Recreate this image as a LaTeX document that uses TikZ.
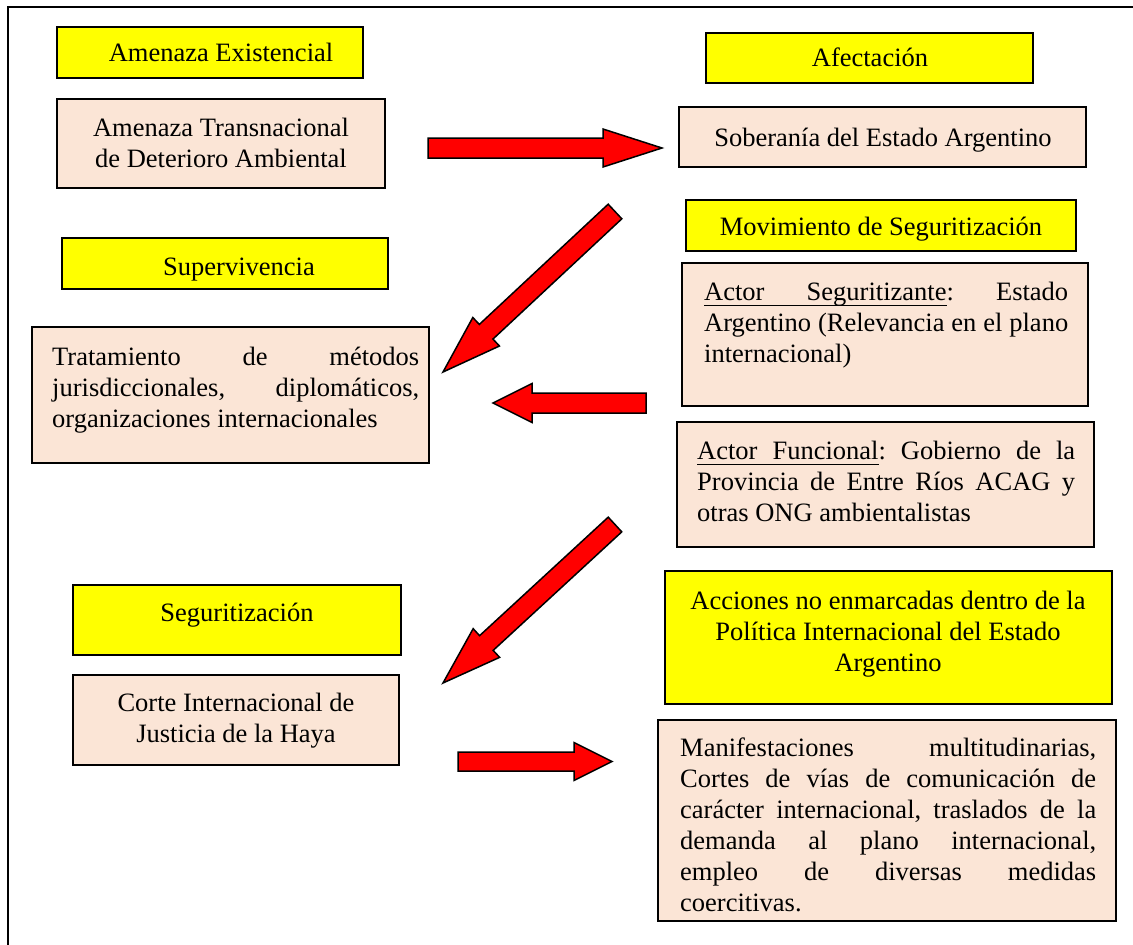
\documentclass[tikz,border=0pt]{standalone}
\usepackage{fontspec}
\setmainfont{Liberation Serif}
\usetikzlibrary{calc}
\definecolor{boxyellow}{HTML}{FFFF00}
\definecolor{boxpeach}{HTML}{FBE5D6}
\definecolor{arrowred}{HTML}{FF0000}
\frenchspacing
\newcommand\mybox[6]{%
  \node[#2, minimum width={(#5-#3)*1pt}, minimum height={(#6-#4)*1pt}] (#1) at ({(#3+#5)/2},{(#4+#6)/2}) {};}
\newcommand\blockarrow[5]{% tail, tip, head length, shaft half width, head half width
  \coordinate (hb) at ($(#2)!#3pt!(#1)$);
  \path[bigarrow] ($(#1)!#4pt!90:(#2)$) -- ($(hb)!#4pt!90:(#2)$) -- ($(hb)!#5pt!90:(#2)$) -- (#2)
    -- ($(hb)!#5pt!-90:(#2)$) -- ($(hb)!#4pt!-90:(#2)$) -- ($(#1)!#4pt!-90:(#2)$) -- cycle;}
\newcommand\ulw[1]{\setbox0\hbox{#1}\rlap{\vrule height -4.5pt depth 6pt width \wd0}\box0}
\newcommand\ulsp{\leaders\hrule height -4.5pt depth 6pt\hskip\fontdimen2\font plus\fontdimen3\font minus\fontdimen4\font\relax}
\newcommand\loosepar{\tolerance=10000 \emergencystretch=30pt \frenchspacing\relax}
\tikzset{
  ybox/.style={draw=black, line width=1.5pt, fill=boxyellow, inner sep=0pt},
  pbox/.style={draw=black, line width=1.5pt, fill=boxpeach, inner sep=0pt},
  ctext/.style={align=center, inner sep=0pt, anchor=base,
    font=\fontsize{26.5}{31}\selectfont},
  jtext/.style={text width=#1, align=justify, inner sep=0pt, anchor=base west,
    font=\fontsize{26.5}{31}\selectfont, execute at begin node=\loosepar},
  bigarrow/.style={draw=black, line width=1.5pt, fill=arrowred, line join=miter},
}
\begin{document}
\begin{tikzpicture}[x=1pt, y=-1pt]
\useasboundingbox (0,0) rectangle (1133,945);
\draw[line width=2pt] (8,945) -- (8,7) -- (1133,7);
% boxes
\mybox{b1}{ybox}{57}{27}{363}{78}
\mybox{b2}{pbox}{57}{99}{385}{188}
\mybox{b3}{ybox}{706}{33}{1033}{83}
\mybox{b4}{pbox}{679}{107}{1086}{167}
\mybox{b5}{ybox}{686}{200}{1076}{251}
\mybox{b6}{ybox}{62}{238}{388}{289}
\mybox{b7}{pbox}{32}{327}{429}{463}
\mybox{b8}{pbox}{682}{263}{1088}{406}
\mybox{b9}{pbox}{677}{422}{1094}{547}
\mybox{b10}{ybox}{73}{585}{401}{655}
\mybox{b11}{ybox}{665}{571}{1112}{704}
\mybox{b12}{pbox}{73}{675}{399}{765}
\mybox{b13}{pbox}{658}{720}{1116}{921}
% texts (base anchor = baseline of the last line)
\node[ctext] (t1) at (221,61) {Amenaza Existencial};
\node[ctext] (t2) at (221,167) {Amenaza Transnacional\\de Deterioro Ambiental};
\node[ctext] (t3) at (870,66) {Afectación};
\node[ctext] (t4) at (883,146) {Soberanía del Estado Argentino};
\node[ctext] (t5) at (881,235) {Movimiento de Seguritización};
\node[ctext] (t6) at (239,275) {Supervivencia};
\node[jtext=367pt] (t7) at (52,365) {Tratamiento de métodos\linebreak jurisdiccionales, diplomáticos,\linebreak organizaciones internacionales};
\node[jtext=364pt] (t8) at (704,300) {\ulw{Actor}\ulsp\ulw{Seguritizante}: Estado\linebreak Argentino (Relevancia en el plano\linebreak internacional)};
\node[jtext=378pt] (t9) at (697,459) {\ulw{Actor}\ulsp\ulw{Funcional}: Gobierno de la\linebreak Provincia de Entre Ríos ACAG y\linebreak otras ONG ambientalistas};
\node[ctext] (t10) at (237,621) {Seguritización};
\node[ctext] (t11) at (888,671) {Acciones no enmarcadas dentro de la\\Política Internacional del Estado\\Argentino};
\node[ctext] (t12) at (236,742) {Corte Internacional de\\Justicia de la Haya};
\node[jtext=416pt] (t13) at (680,756) {Manifestaciones multitudinarias,\linebreak Cortes de vías de comunicación de\linebreak carácter internacional, traslados de la\linebreak demanda al plano internacional,\linebreak empleo de diversas medidas\linebreak coercitivas.};
% arrows
\coordinate (a1t) at (428,148);   \coordinate (a1h) at (662,148);
\coordinate (a2t) at (615,211.5); \coordinate (a2h) at (443,372);
\coordinate (a3t) at (646,403);   \coordinate (a3h) at (493,403);
\coordinate (a4t) at (615,524.5); \coordinate (a4h) at (443,683);
\coordinate (a5t) at (458,761.5); \coordinate (a5h) at (612,761.5);
\blockarrow{a1t}{a1h}{59}{10}{19}
\blockarrow{a2t}{a2h}{59}{10}{19.5}
\blockarrow{a3t}{a3h}{39}{10}{19.5}
\blockarrow{a4t}{a4h}{59}{10}{19.5}
\blockarrow{a5t}{a5h}{38}{9.5}{19}
\end{tikzpicture}
\end{document}
